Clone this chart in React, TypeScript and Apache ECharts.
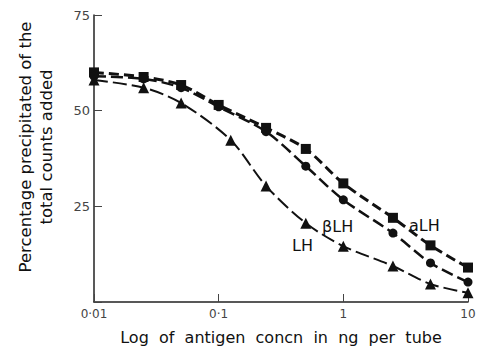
import React, { useEffect, useRef } from "react";
import * as echarts from "echarts";

const doseALH = [0.01, 0.025, 0.05, 0.1, 0.24, 0.5, 1, 2.5, 5, 10];
const valuesALH = [60, 58.8, 56.7, 51.5, 45.5, 40, 31, 22, 14.8, 9];
const doseBLH = [0.01, 0.025, 0.05, 0.1, 0.24, 0.5, 1, 2.5, 5, 10];
const valuesBLH = [59, 58.3, 56, 51, 44.5, 35.5, 26.7, 18, 10.2, 5.2];
const doseLH = [0.01, 0.025, 0.05, 0.125, 0.24, 0.5, 1, 2.5, 5, 10];
const valuesLH = [58, 56, 52, 42.3, 30.3, 20.6, 14.6, 9.4, 4.7, 2.4];
const xTickLabels: Record<string, string> = { "-2": "0·01", "-1": "0·1", "0": "1", "1": "10" };
const yTickLabels: Record<string, string> = { "0": "", "25": "25", "50": "50", "75": "75" };

const FONT = "DejaVu Sans";

function pairs(xs: number[], ys: number[]) {
  return xs.map((x, i) => [x, ys[i]]);
}

export default function App() {
  const ref = useRef<HTMLDivElement>(null);
  useEffect(() => {
    document.body.style.margin = "0";
    document.body.style.overflow = "hidden";
    if (!ref.current) return;
    const chart = echarts.init(ref.current, undefined, { renderer: "svg" });
    const lineBase = { color: "#111" };
    chart.setOption({
      animation: false,
      backgroundColor: "#fff",
      grid: { left: 94, right: 11, top: 15, bottom: 55 },
      xAxis: {
        type: "log",
        logBase: 10,
        min: 0.01,
        max: 10,
        name: "Log  of  antigen  concn  in  ng  per  tube",
        nameLocation: "middle",
        nameGap: 27,
        nameTextStyle: { fontFamily: FONT, fontSize: 16, color: "#111" },
        axisLine: { lineStyle: { color: "#222", width: 1.5 } },
        axisTick: { inside: true, length: 8, lineStyle: { color: "#444" } },
        minorTick: { show: false },
        splitLine: { show: false },
        axisLabel: {
          fontFamily: FONT,
          fontSize: 12,
          color: "#444",
          margin: 6,
          showMinLabel: true,
          showMaxLabel: true,
          formatter: (v: number) => xTickLabels[String(Math.round(Math.log10(v)))] ?? "",
        },
      },
      yAxis: {
        type: "value",
        min: 0,
        max: 75,
        interval: 25,
        axisLine: { show: true, lineStyle: { color: "#222", width: 1.5 } },
        axisTick: { show: true, inside: true, length: 8, lineStyle: { color: "#444" } },
        splitLine: { show: false },
        axisLabel: {
          fontFamily: FONT,
          fontSize: 13,
          color: "#444",
          margin: 4,
          formatter: (v: number) => yTickLabels[String(v)] ?? "",
        },
      },
      graphic: [
        {
          type: "text",
          x: 25,
          y: 147,
          rotation: Math.PI / 2,
          style: {
            text: "Percentage precipitated of the",
            fontFamily: FONT,
            fontSize: 16.5,
            fill: "#111",
            align: "center",
            verticalAlign: "middle",
          },
        },
        {
          type: "text",
          x: 46,
          y: 147,
          rotation: Math.PI / 2,
          style: {
            text: "total counts added",
            fontFamily: FONT,
            fontSize: 16.5,
            fill: "#111",
            align: "center",
            verticalAlign: "middle",
          },
        },
        {
          type: "text",
          x: 409,
          y: 225,
          style: { text: "aLH", fontFamily: FONT, fontSize: 16, fill: "#111", verticalAlign: "middle" },
        },
        {
          type: "text",
          x: 322,
          y: 226,
          style: { text: "βLH", fontFamily: FONT, fontSize: 16, fill: "#111", verticalAlign: "middle" },
        },
        {
          type: "text",
          x: 292,
          y: 245,
          style: { text: "LH", fontFamily: FONT, fontSize: 16, fill: "#111", verticalAlign: "middle" },
        },
      ],
      series: [
        {
          name: "aLH",
          type: "line",
          data: pairs(doseALH, valuesALH),
          smooth: 0.3,
          symbol: "rect",
          symbolSize: 10,
          itemStyle: lineBase,
          lineStyle: { color: "#111", width: 3, type: [10, 5] },
          z: 3,
        },
        {
          name: "βLH",
          type: "line",
          data: pairs(doseBLH, valuesBLH),
          smooth: 0.3,
          symbol: "circle",
          symbolSize: 9,
          itemStyle: lineBase,
          lineStyle: { color: "#111", width: 2.5, type: [12, 5] },
          z: 3,
        },
        {
          name: "LH",
          type: "line",
          data: pairs(doseLH, valuesLH),
          smooth: 0.3,
          symbol: "triangle",
          symbolSize: 11,
          itemStyle: lineBase,
          lineStyle: { color: "#111", width: 2, type: [14, 5] },
          z: 3,
        },
      ],
    });
    return () => chart.dispose();
  }, []);
  return <div ref={ref} style={{ position: "absolute", left: 0, top: 0, width: 479, height: 357 }} />;
}
